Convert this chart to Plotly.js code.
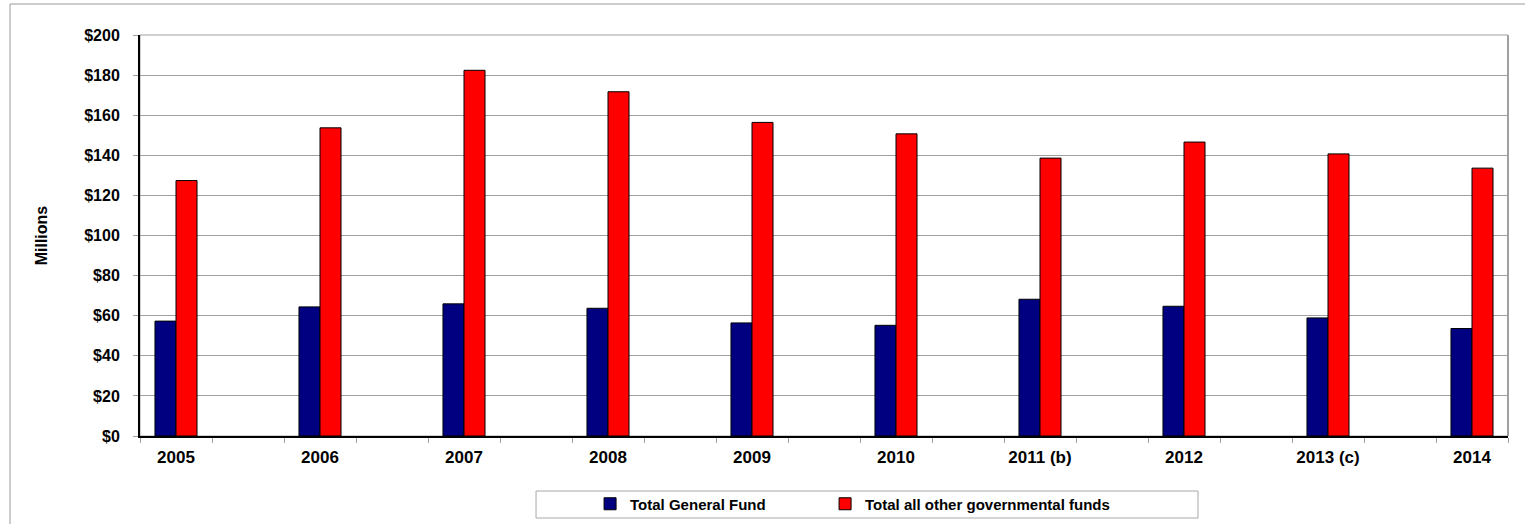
<!DOCTYPE html>
<html>
<head>
<meta charset="utf-8">
<script src="https://cdn.plot.ly/plotly-3.0.1.min.js"></script>
<style>
  html, body { margin: 0; padding: 0; background: #ffffff; }
  #chart { width: 1525px; height: 524px; }
</style>
</head>
<body>
<div id="chart"></div>
<script>
// ---- Data (values in $ millions) ----
const years = ['2005', '2006', '2007', '2008', '2009', '2010', '2011 (b)', '2012', '2013 (c)', '2014'];
const generalFund = [57.3, 64.4, 65.9, 63.7, 56.4, 55.2, 68.2, 64.7, 58.9, 53.6];
const otherFunds = [127.4, 153.7, 182.4, 171.7, 156.4, 150.7, 138.6, 146.6, 140.7, 133.6];
const seriesNames = ['Total General Fund', 'Total all other governmental funds'];
const yTickValues = [0, 20, 40, 60, 80, 100, 120, 140, 160, 180, 200];
const yTickLabels = ['$0', '$20', '$40', '$60', '$80', '$100', '$120', '$140', '$160', '$180', '$200'];

// Each year sits in its own slot, followed by an empty slot (as in the source chart).
const slots = years.map((_, i) => i * 2);

const FONT = 'Arial, "Liberation Sans", Helvetica, sans-serif';
const GRID = '#a0a0a0';

const traces = [
  {
    type: 'bar', name: seriesNames[0], x: slots, y: generalFund,
    marker: { color: '#000080', line: { color: '#000000', width: 1 } },
    legendwidth: 190, hoverinfo: 'y+name'
  },
  {
    type: 'bar', name: seriesNames[1], x: slots, y: otherFunds,
    marker: { color: '#ff0000', line: { color: '#000000', width: 1 } },
    legendwidth: 270, hoverinfo: 'y+name'
  }
];

const layout = {
  width: 1525, height: 524,
  margin: { l: 140, r: 17, t: 35, b: 88, pad: 0, autoexpand: false },
  paper_bgcolor: '#ffffff', plot_bgcolor: '#ffffff',
  font: { family: FONT, color: '#000000', weight: 'bold' },
  barmode: 'group', bargap: 0.708, bargroupgap: 0,
  showlegend: true,
  legend: {
    orientation: 'h', x: 0.329, xanchor: 'left', y: -0.1696, yanchor: 'middle',
    bgcolor: 'rgba(0,0,0,0)', borderwidth: 0,
    font: { family: FONT, size: 15, color: '#000000', weight: 'bold' },
    traceorder: 'normal'
  },
  xaxis: {
    type: 'linear', range: [-0.5, 2 * years.length - 1.5], fixedrange: true,
    tickmode: 'array', tickvals: slots, ticktext: years,
    ticks: 'outside', ticklen: 0, tickcolor: GRID,
    minor: { tickmode: 'linear', tick0: -0.5, dtick: 1, ticks: 'outside', ticklen: 5, tickcolor: GRID, tickwidth: 1, showgrid: false },
    showgrid: false, zeroline: false,
    showline: true, linecolor: '#000000', linewidth: 2,
    tickfont: { family: FONT, size: 17, color: '#000000', weight: 'bold' },
    ticklabelstandoff: 5
  },
  yaxis: {
    range: [0, 200], fixedrange: true,
    tickmode: 'array', tickvals: yTickValues, ticktext: yTickLabels,
    ticks: 'outside', ticklen: 5, tickcolor: GRID, tickwidth: 1,
    showgrid: true, gridcolor: GRID, gridwidth: 1, zeroline: false,
    showline: true, linecolor: '#000000', linewidth: 2,
    tickfont: { family: FONT, size: 16, color: '#000000', weight: 'bold' },
    ticklabelstandoff: 10,
    title: { text: 'Millions', font: { family: FONT, size: 16, color: '#000000', weight: 'bold' }, standoff: 33 }
  },
  shapes: [
    // outer chart frame
    { type: 'rect', xref: 'paper', yref: 'paper', x0: -0.0950, x1: 1.02, y0: -0.25, y1: 1.0773,
      line: { color: '#9a9a9a', width: 1 }, fillcolor: 'rgba(0,0,0,0)', layer: 'below' },
    // plot-area frame
    { type: 'rect', xref: 'paper', yref: 'paper', x0: 0, x1: 1, y0: 0, y1: 1,
      line: { color: GRID, width: 1 }, fillcolor: 'rgba(0,0,0,0)', layer: 'below' },
    { type: 'line', xref: 'paper', yref: 'paper', x0: 1, x1: 1, y0: 0, y1: 1,
      line: { color: GRID, width: 2 }, layer: 'below' },
    // legend frame
    { type: 'rect', xref: 'paper', yref: 'paper', x0: 0.2895, x1: 0.7734, y0: -0.2045, y1: -0.1372,
      line: { color: '#a8a8a8', width: 1 }, fillcolor: 'rgba(0,0,0,0)', layer: 'below' }
  ]
};

Plotly.newPlot('chart', traces, layout, { displayModeBar: false, staticPlot: true });
</script>
</body>
</html>
